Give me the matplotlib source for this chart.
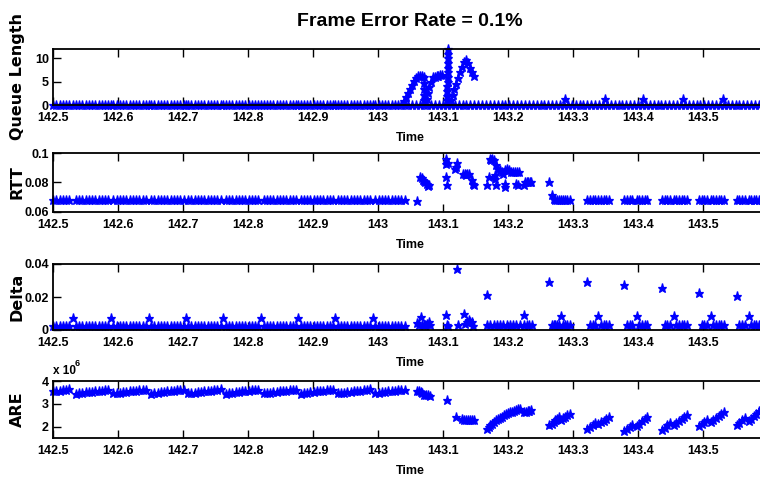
import numpy as np
import matplotlib
matplotlib.use("Agg")
import matplotlib.pyplot as plt

# ---------------- data (time as ms offset from 142.5 s) ----------------
T0 = 142.5
x_ticks = [142.5, 142.6, 142.7, 142.8, 142.9, 143.0, 143.1, 143.2, 143.3, 143.4, 143.5]
x_tick_labels = ['142.5', '142.6', '142.7', '142.8', '142.9', '143', '143.1', '143.2', '143.3', '143.4', '143.5']

# steady period packets (before 143.04)
t_steady_ms = [0, 5, 10, 15, 20, 25,
               35, 40, 45, 50, 55, 60, 65, 70, 75, 80, 85,
               93, 98, 103, 108, 113, 118, 123, 128, 133, 138, 143,
               151, 156, 161, 166, 171, 176, 181, 186, 191, 196, 201,
               208, 213, 218, 223, 228, 233, 238, 243, 248, 253, 258,
               266, 271, 276, 281, 286, 291, 296, 301, 306, 311, 316,
               324, 329, 334, 339, 344, 349, 354, 359, 364, 369, 374,
               381, 386, 391, 396, 401, 406, 411, 416, 421, 426, 431,
               438, 443, 448, 453, 458, 463, 468, 473, 478, 483, 488,
               496, 501, 506, 511, 516, 521, 526, 531, 536, 541]
# cycle boundary packets
t_bound_ms = [31, 89, 147, 204, 262, 320, 377, 434, 492]

rtt_steady_level = 0.068
delta_steady_level = 0.0025
delta_bound_level = 0.0071
queue_steady_level = 0.0

are_steady = [3.55, 3.57, 3.58, 3.60, 3.61, 3.63,
              3.45, 3.47, 3.48, 3.50, 3.52, 3.53, 3.55, 3.57, 3.58, 3.60, 3.62,
              3.46, 3.47, 3.49, 3.51, 3.52, 3.54, 3.56, 3.57, 3.59, 3.61, 3.62,
              3.45, 3.47, 3.49, 3.50, 3.52, 3.54, 3.55, 3.57, 3.59, 3.60, 3.62,
              3.46, 3.48, 3.49, 3.51, 3.53, 3.54, 3.56, 3.58, 3.59, 3.61, 3.63,
              3.45, 3.47, 3.48, 3.50, 3.52, 3.54, 3.55, 3.57, 3.59, 3.60, 3.62,
              3.46, 3.47, 3.49, 3.51, 3.52, 3.54, 3.56, 3.57, 3.59, 3.61, 3.62,
              3.45, 3.47, 3.49, 3.50, 3.52, 3.54, 3.55, 3.57, 3.59, 3.60, 3.62,
              3.46, 3.48, 3.49, 3.51, 3.53, 3.54, 3.56, 3.58, 3.59, 3.61, 3.63,
              3.47, 3.49, 3.50, 3.52, 3.54, 3.55, 3.57, 3.59, 3.60, 3.62]

# queue length: burst and tail
q_burst_t = [540, 543, 546, 549, 552, 555, 558, 561, 564, 567, 570,
             570, 570, 571, 571,
             575, 577, 579, 581, 584, 587, 590, 593, 596, 599,
             606, 606, 606, 606, 607, 607, 607, 607, 607, 607, 607, 607,
             613, 615, 617, 620, 623, 626, 629, 632, 635, 638, 641, 644, 647]
q_burst_v = [0.8, 1.7, 2.6, 3.5, 4.3, 5.1, 5.8, 6.2, 6.3, 6.2, 6.0,
             4.8, 3.5, 2.2, 1.0,
             1.2, 2.5, 3.8, 5.0, 5.9, 6.1, 6.3, 6.2, 6.4, 6.5,
             1, 2, 3, 4, 5, 6, 7, 8, 9, 10, 11, 12,
             1.0, 2.2, 3.4, 4.6, 5.8, 7.0, 8.2, 9.2, 9.6, 9.0, 8.0, 7.0, 6.2]
q_small_t = [788, 849, 908, 969, 1031]
q_small_v = [1.3, 1.3, 1.3, 1.3, 1.3]
q_tail_t = [546, 552, 558, 564, 570, 576, 582, 588, 594, 600, 606, 612, 618, 624, 630,
            636, 642, 648, 654, 660, 666, 672, 678, 684, 690, 696, 702, 708, 714, 720,
            726, 732, 738, 744, 750, 756, 762, 768, 774, 780, 786, 792, 798, 804, 810,
            816, 822, 828, 834, 840, 846, 852, 858, 864, 870, 876, 882, 888, 894, 900,
            906, 912, 918, 924, 930, 936, 942, 948, 954, 960, 966, 972, 978, 984, 990,
            996, 1002, 1008, 1014, 1020, 1026, 1032, 1038, 1044, 1050, 1056, 1062, 1068,
            1074, 1080, 1086, 1092]

# RTT in the disturbed period
rtt_mid_t = [560, 564, 567, 569, 571, 572, 575, 577, 579,
             604, 604, 605, 606, 607,
             619, 620, 622,
             631, 634, 636, 637, 640,
             644, 646, 647,
             667, 670, 673, 674, 675, 678,
             680, 680, 681, 681, 684,
             687, 690, 693, 696, 699, 702, 705, 708, 711, 714, 717,
             695, 695,
             713, 716,
             724, 726, 729, 731, 734, 736]
rtt_mid_v = [0.0675, 0.0840, 0.0832, 0.0818, 0.0810, 0.0803, 0.0792, 0.0774, 0.0785,
             0.0962, 0.0928, 0.0837, 0.0781, 0.0930,
             0.0894, 0.0905, 0.0930,
             0.0860, 0.0860, 0.0849, 0.0855, 0.0860,
             0.0815, 0.0792, 0.0781,
             0.0781, 0.0837, 0.0962, 0.0950, 0.0962, 0.0950,
             0.0849, 0.0826, 0.0917, 0.0781, 0.0894,
             0.0883, 0.0871, 0.0860, 0.0883, 0.0894, 0.0883, 0.0871, 0.0871, 0.0871, 0.0871, 0.0871,
             0.0792, 0.0770,
             0.0792, 0.0781,
             0.0781, 0.0803, 0.0803, 0.0803, 0.0803, 0.0805]

# Delta in the disturbed period
delta_mid_t = [560, 566, 563, 567, 570, 573, 576, 579, 580,
               605, 606, 608,
               621, 623,
               632, 634, 637, 640, 642, 645, 646,
               667,
               668, 673, 678, 683, 688, 693, 698, 703, 708, 713, 718,
               724,
               725, 729, 733, 737]
delta_mid_v = [0.0044, 0.0079, 0.0028, 0.0028, 0.0028, 0.0028, 0.0035, 0.0048, 0.0028,
               0.0093, 0.0028, 0.0025,
               0.0372, 0.0028,
               0.0099, 0.0038, 0.0048, 0.0058, 0.0050, 0.0050, 0.0025,
               0.0214,
               0.0028, 0.0028, 0.0028, 0.0028, 0.0028, 0.0028, 0.0028, 0.0028, 0.0028, 0.0028, 0.0028,
               0.0089,
               0.0028, 0.0028, 0.0028, 0.0028]

# ARE in the disturbed period (x 10^6)
are_mid_t = [560, 563, 566, 568, 571, 574, 577, 580,
             606,
             620,
             629, 632, 635, 638, 641, 644, 647,
             667, 670, 673, 676, 679, 682, 685, 688, 691, 694, 697, 700, 703, 706, 709, 712, 715, 718,
             724, 727, 730, 733, 736]
are_mid_v = [3.56, 3.54, 3.50, 3.49, 3.40, 3.39, 3.37, 3.36,
             3.17,
             2.42,
             2.33, 2.28, 2.30, 2.27, 2.29, 2.27, 2.30,
             1.88, 1.97, 2.05, 2.13, 2.20, 2.27, 2.33, 2.39, 2.44, 2.49, 2.54, 2.58, 2.62, 2.66, 2.70, 2.73, 2.76, 2.79,
             2.63, 2.66, 2.68, 2.70, 2.73]

# recovered period: periodic packet groups
tail_t = [763, 767, 770, 773, 776, 779, 782, 785, 788, 791, 795,
          822, 826, 830, 834, 839, 843, 847, 851, 855,
          879, 883, 887, 891, 898, 902, 906, 910, 914,
          937, 941, 945, 949, 955, 959, 963, 967, 971, 975,
          994, 998, 1002, 1006, 1012, 1016, 1020, 1024, 1028, 1032,
          1052, 1056, 1060, 1064, 1070, 1074, 1078, 1082, 1086, 1090]
tail_rtt = [0.0803, 0.0713, 0.0691, 0.068, 0.068, 0.068, 0.068, 0.068, 0.068, 0.068, 0.068,
            0.068, 0.068, 0.068, 0.068, 0.068, 0.068, 0.068, 0.068, 0.068,
            0.068, 0.068, 0.068, 0.068, 0.068, 0.068, 0.068, 0.068, 0.068,
            0.068, 0.068, 0.068, 0.068, 0.068, 0.068, 0.068, 0.068, 0.068, 0.068,
            0.068, 0.068, 0.068, 0.068, 0.068, 0.068, 0.068, 0.068, 0.068, 0.068,
            0.068, 0.068, 0.068, 0.068, 0.068, 0.068, 0.068, 0.068, 0.068, 0.068]
tail_delta = [0.0293, 0.0028, 0.0028, 0.0028, 0.0028, 0.0028, 0.0085, 0.0028, 0.0028, 0.0028, 0.0028,
              0.0293, 0.0028, 0.0028, 0.0028, 0.0085, 0.0028, 0.0028, 0.0028, 0.0028,
              0.0273, 0.0028, 0.0028, 0.0028, 0.0085, 0.0028, 0.0028, 0.0028, 0.0028,
              0.0253, 0.0028, 0.0028, 0.0028, 0.0085, 0.0028, 0.0028, 0.0028, 0.0028, 0.0028,
              0.0226, 0.0028, 0.0028, 0.0028, 0.0085, 0.0028, 0.0028, 0.0028, 0.0028, 0.0028,
              0.0206, 0.0028, 0.0028, 0.0028, 0.0085, 0.0028, 0.0028, 0.0028, 0.0028, 0.0028]
tail_are = [2.05, 2.12, 2.20, 2.28, 2.35, 2.42, 2.30, 2.36, 2.43, 2.50, 2.56,
            1.88, 1.97, 2.06, 2.15, 2.10, 2.18, 2.26, 2.35, 2.43,
            1.80, 1.90, 1.99, 2.08, 2.03, 2.13, 2.23, 2.33, 2.43,
            1.87, 1.96, 2.06, 2.15, 2.08, 2.16, 2.25, 2.33, 2.42, 2.50,
            2.01, 2.10, 2.20, 2.29, 2.22, 2.30, 2.39, 2.47, 2.56, 2.64,
            2.08, 2.17, 2.27, 2.36, 2.24, 2.35, 2.46, 2.57, 2.68, 2.78]

# ---------------- plotting ----------------
NARROW = ['Liberation Sans Narrow', 'Liberation Sans', 'DejaVu Sans']
BLUE = '#0000ff'


def tt(ms):
    return T0 + np.asarray(ms, dtype=float) / 1000.0


def stars(ax, x, y):
    ax.plot(x, y, linestyle='none', marker='*', markersize=6.6, color=BLUE,
            markeredgecolor=BLUE, markeredgewidth=0.9, clip_on=False)


fig = plt.figure(figsize=(7.6, 4.78), dpi=100)
W, H = 760.0, 478.0
left_px, right_px = 53, 768
boxes = [(49, 105), (153, 212), (264, 330), (381, 438)]
axes = []
for top, bot in boxes:
    ax = fig.add_axes([left_px / W, 1 - bot / H, (right_px - left_px) / W, (bot - top) / H])
    axes.append(ax)

n_st = len(t_steady_ms)
# Queue length
ax = axes[0]
stars(ax, tt(t_steady_ms + t_bound_ms), [queue_steady_level] * (n_st + len(t_bound_ms)))
stars(ax, tt(q_tail_t), [queue_steady_level] * len(q_tail_t))
stars(ax, tt(q_burst_t), q_burst_v)
stars(ax, tt(q_small_t), q_small_v)
ax.set_ylim(0, 12)
ax.set_yticks([0, 5, 10])
ax.set_yticklabels(['0', '5', '10'])
ax.set_ylabel('Queue Length')

# RTT
ax = axes[1]
stars(ax, tt(t_steady_ms), [rtt_steady_level] * n_st)
stars(ax, tt(rtt_mid_t), rtt_mid_v)
stars(ax, tt(tail_t), tail_rtt)
ax.set_ylim(0.06, 0.1)
ax.set_yticks([0.06, 0.08, 0.1])
ax.set_yticklabels(['0.06', '0.08', '0.1'])
ax.set_ylabel('RTT')

# Delta
ax = axes[2]
stars(ax, tt(t_steady_ms), [delta_steady_level] * n_st)
stars(ax, tt(t_bound_ms), [delta_bound_level] * len(t_bound_ms))
stars(ax, tt(delta_mid_t), delta_mid_v)
stars(ax, tt(tail_t), tail_delta)
ax.set_ylim(0, 0.04)
ax.set_yticks([0, 0.02, 0.04])
ax.set_yticklabels(['0', '0.02', '0.04'])
ax.set_ylabel('Delta')

# ARE
ax = axes[3]
stars(ax, tt(t_steady_ms), are_steady)
stars(ax, tt(are_mid_t), are_mid_v)
stars(ax, tt(tail_t), tail_are)
ax.set_ylim(1.5, 4)
ax.set_yticks([2, 3, 4])
ax.set_yticklabels(['2', '3', '4'])
ax.set_ylabel('ARE')

for ax in axes:
    ax.set_xlim(142.5, 143.6)
    ax.set_xticks(x_ticks)
    ax.set_xticklabels(x_tick_labels)
    ax.tick_params(direction='in', top=True, right=True, length=5.5, width=1.0,
                   labelsize=9)
    ax.tick_params(axis='x', pad=5)
    ax.tick_params(axis='y', pad=3)
    for lab in ax.get_xticklabels() + ax.get_yticklabels():
        lab.set_family(NARROW)
        lab.set_fontweight('bold')
    for sp in ax.spines.values():
        sp.set_linewidth(1.3)
    ax.set_xlabel('Time', fontsize=9, fontweight='bold', family=NARROW, labelpad=5.5)
    yl = ax.yaxis.label
    yl.set_fontsize(11.5)
    yl.set_fontweight('bold')
    yl.set_family('DejaVu Sans')
    ax.yaxis.set_label_coords((25 - left_px) / (right_px - left_px), 0.5)

fig.text(410 / W, 1 - 22 / H, 'Frame Error Rate = 0.1%', ha='center', va='center',
         fontsize=14, fontweight='bold', family=NARROW)
fig.text(53 / W, 1 - 371 / H, 'x 10', ha='left', va='center', fontsize=8.5,
         fontweight='bold', family=NARROW)
fig.text(75 / W, 1 - 363 / H, '6', ha='left', va='center', fontsize=6.5,
         fontweight='bold', family=NARROW)

fig.savefig('out.png', dpi=100)
